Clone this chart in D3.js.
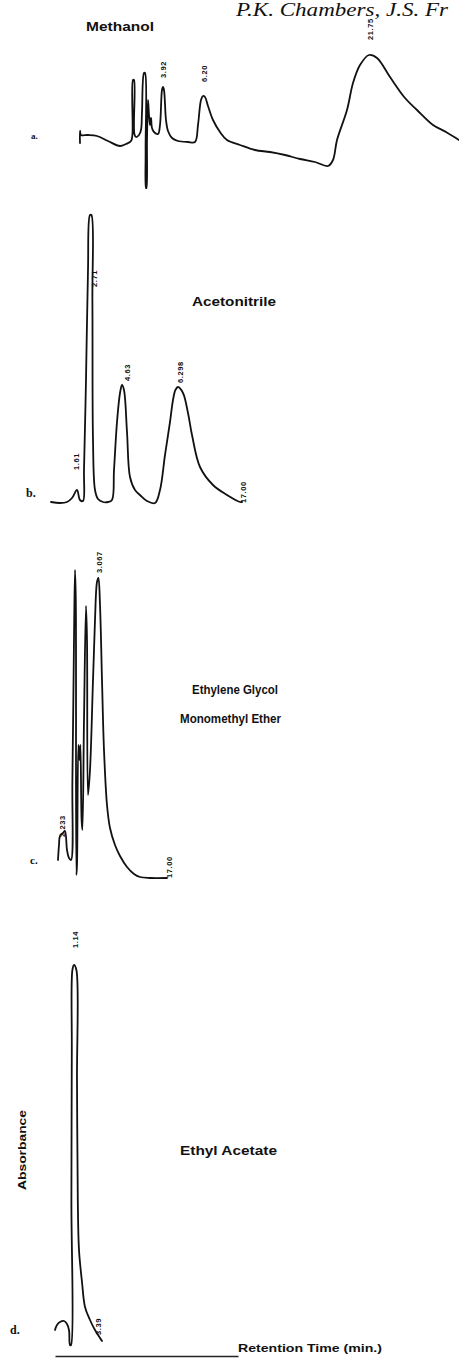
<!DOCTYPE html>
<html>
<head>
<meta charset="utf-8">
<script src="https://cdn.jsdelivr.net/npm/d3@7"></script>
<style>
  body { margin: 0; background: white; }
</style>
</head>
<body>
<script>
const POLICE = 'Liberation Sans'
const ENCRE = '#111'

const width = 459,
    height = 1358

// chromatogram traces: [retention time (min), absorbance (arb. units)]
const traceA = [[0,7],[0,19],[0.05,15],[0.4,15],[0.85,14],[1.4,9],[2.0,4],[2.3,6],[2.55,9],[2.62,15],[2.65,70],[2.7,70],[2.72,16],[2.8,13],[2.95,15],[3.05,20],[3.1,38],[3.2,77],[3.25,77],[3.28,0],[3.3,-38],[3.32,-38],[3.35,10],[3.4,50],[3.45,35],[3.5,25],[3.55,32],[3.6,22],[3.7,18],[3.9,16],[4.0,25],[4.1,60],[4.15,63],[4.2,60],[4.3,30],[4.4,19],[4.6,12],[4.9,9],[5.4,8],[5.75,8],[5.9,25],[6.05,50],[6.15,54],[6.25,53],[6.4,44],[6.65,30],[7.0,18],[7.35,10],[8.0,5],[8.75,0],[9.5,-2],[10.25,-5],[11.0,-9],[11.75,-12],[12.4,-16],[12.65,-10],[12.85,10],[13.35,40],[13.65,67],[14.0,85],[14.45,95],[14.85,92],[15.5,73],[16.25,52],[16.85,40],[17.65,25],[18.3,18],[18.95,10]]
const traceB = [[0,8],[0.45,7],[0.8,8],[1.05,12],[1.3,20],[1.45,10],[1.6,9],[1.65,40],[1.75,130],[1.85,240],[1.95,295],[2.02,295],[2.07,210],[2.1,70],[2.2,20],[2.35,11],[2.6,8],[2.85,8],[3.05,10],[3.15,40],[3.3,88],[3.45,117],[3.55,125],[3.65,120],[3.8,78],[3.95,33],[4.2,20],[4.45,15],[4.8,9],[5.2,7],[5.45,20],[5.7,55],[5.95,88],[6.1,110],[6.22,120],[6.35,123],[6.6,117],[6.85,97],[7.05,75],[7.45,43],[8.1,25],[8.8,15],[9.45,8],[9.55,8]]
const traceC = [[0,20],[0.05,35],[0.1,44],[0.25,47],[0.35,49],[0.45,30],[0.55,22],[0.65,20],[0.72,100],[0.8,240],[0.85,310],[0.89,280],[0.92,5],[0.95,15],[1.02,135],[1.08,120],[1.12,135],[1.18,60],[1.22,50],[1.3,160],[1.4,274],[1.45,240],[1.5,85],[1.6,110],[1.75,200],[1.85,260],[1.95,298],[2.02,302],[2.1,275],[2.2,200],[2.3,130],[2.45,75],[2.6,52],[2.85,35],[3.1,24],[3.45,13],[3.8,6],[4.1,3],[4.6,2],[5.45,2]]
const traceD = [[0,20],[0.1,25],[0.25,28],[0.45,29],[0.6,26],[0.7,20],[0.75,5],[0.8,5],[0.82,150],[0.84,300],[0.87,380],[0.95,385],[1.07,380],[1.1,270],[1.14,150],[1.2,100],[1.35,68],[1.5,43],[1.75,30],[2.0,20],[2.25,12],[2.35,9]]

// integrator retention-time labels: time, absorbance level of the label foot, printed text
const peaksA = [{t:4.15, a:72, text:'3.92'}, {t:6.2, a:68, text:'6.20'}, {t:14.5, a:110, text:'21.75'}]
const peaksB = [{t:1.25, a:40, text:'1.61'}, {t:2.15, a:223, text:'2.71'}, {t:3.8, a:129, text:'4.63'}, {t:6.45, a:127, text:'6.298'}, {t:9.6, a:7, text:'17.00'}]
const peaksC = [{t:0.2, a:43, text:'2.233'}, {t:2.07, a:307, text:'3.067'}, {t:5.55, a:2, text:'17.00'}]
const peaksD = [{t:1.0, a:402, text:'1.14'}, {t:2.17, a:15, text:'3.39'}]

const solvants = ['Methanol', 'Acetonitrile', 'Ethylene Glycol', 'Monomethyl Ether', 'Ethyl Acetate']
const lettres = ['a.', 'b.', 'c.', 'd.']

//Place svg
const svg = d3.select('body').append('svg')
    .attr('width', width).attr('height', height).attr('xmlns', 'http://www.w3.org/2000/svg')
    .style('display', 'block').style('background-color', 'white')

function drawPanel(trace, peaks, tMax, aMax, xRange, yRange) {
    const x = d3.scaleLinear().domain([0, tMax]).range(xRange)
    const y = d3.scaleLinear().domain([0, aMax]).range(yRange)
    const line = d3.line().x(d => x(d[0])).y(d => y(d[1])).curve(d3.curveCatmullRom.alpha(0.5))
    const g = svg.append('g')
    g.append('path').datum(trace)
        .attr('d', line).attr('fill', 'none').attr('stroke', ENCRE)
        .attr('stroke-width', 1.8).attr('stroke-linejoin', 'round').attr('stroke-linecap', 'round')
    g.selectAll('text').data(peaks).join('text')
        .attr('transform', d => `translate(${x(d.t) + 3},${y(d.a)}) rotate(-90)`)
        .attr('font-family', POLICE).attr('font-weight', 'bold').attr('font-size', 7.5)
        .attr('letter-spacing', 0.6).attr('fill', ENCRE)
        .text(d => d.text)
    return x
}

drawPanel(traceA, peaksA, 18.95, 100, [80, 459], [150, 50])
drawPanel(traceB, peaksB, 20, 300, [51, 451], [510, 210])
drawPanel(traceC, peaksC, 20, 320, [58, 458], [880, 560])
const xD = drawPanel(traceD, peaksD, 9.15, 400, [55, 238], [1350, 950])

// time axis under the last trace, no ticks
svg.append('g').attr('transform', 'translate(0,1356)')
    .call(d3.axisBottom(xD).tickValues([]).tickSizeOuter(0))
    .call(g => g.select('.domain').attr('stroke', '#222').attr('stroke-width', 1.6))

//Header of the journal page
svg.append('text').text('P.K. Chambers, J.S. Fr')
    .attr('font-family', 'Liberation Serif').attr('font-style', 'italic').attr('font-size', 18)
    .attr('x', 236).attr('y', 16).attr('textLength', 212).attr('lengthAdjust', 'spacingAndGlyphs').attr('fill', ENCRE)

//Solvent names
const noms = [[86, 31, 68], [192, 306, 84], [192, 694, 86], [180, 723, 101], [180, 1155, 97]]
solvants.forEach((s, i) => {
    svg.append('text').text(s)
        .attr('font-family', POLICE).attr('font-weight', 'bold').attr('font-size', 13)
        .attr('x', noms[i][0]).attr('y', noms[i][1])
        .attr('textLength', noms[i][2]).attr('lengthAdjust', 'spacingAndGlyphs').attr('fill', ENCRE)
})

//Panel letters
const pos = [[31, 139, 9], [26, 497, 12], [30, 864, 11], [10, 1334, 12]]
lettres.forEach((l, i) => {
    svg.append('text').text(l)
        .attr('font-family', 'Liberation Serif').attr('font-weight', 'bold').attr('font-size', pos[i][2])
        .attr('x', pos[i][0]).attr('y', pos[i][1]).attr('fill', ENCRE)
})

//Axis titles
svg.append('text').text('Retention Time (min.)')
    .attr('font-family', POLICE).attr('font-weight', 'bold').attr('font-size', 11)
    .attr('x', 238).attr('y', 1352).attr('textLength', 144).attr('lengthAdjust', 'spacingAndGlyphs').attr('fill', ENCRE)
svg.append('text').text('Absorbance')
    .attr('font-family', POLICE).attr('font-weight', 'bold').attr('font-size', 11)
    .attr('transform', 'translate(26,1190) rotate(-90)')
    .attr('textLength', 80).attr('lengthAdjust', 'spacingAndGlyphs').attr('fill', ENCRE)
</script>
</body>
</html>
